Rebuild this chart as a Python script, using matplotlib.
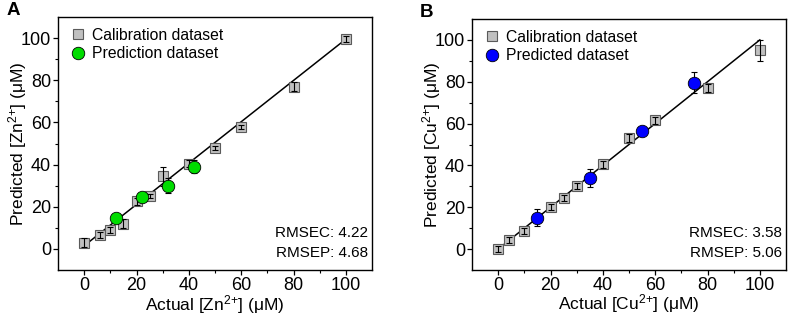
import matplotlib.pyplot as plt
import numpy as np

plt.rcParams['font.family'] = ['Liberation Sans', 'DejaVu Sans']
plt.rcParams['mathtext.fontset'] = 'custom'
plt.rcParams['mathtext.rm'] = 'Liberation Sans'

# Panel A - Zn2+
zn_cal_x = [0, 6, 10, 15, 20, 25, 30, 40, 50, 60, 80, 100]
zn_cal_y = [3, 6.5, 9, 12, 22.5, 25, 34.5, 40.5, 48, 58, 77, 99.5]
zn_cal_err = [2, 1.5, 1.5, 2, 1.5, 1, 4.5, 1.5, 1, 1, 2, 1.5]
zn_pred_x = [12, 22, 32, 42]
zn_pred_y = [14.5, 24.5, 30, 39]
zn_pred_err = [1.5, 1.5, 3.5, 3]
zn_fit = (0.98, 1.5)

# Panel B - Cu2+
cu_cal_x = [0, 4, 10, 20, 25, 30, 40, 50, 60, 80, 100]
cu_cal_y = [0, 4.5, 8.5, 20, 24.5, 30, 40.5, 53, 61.5, 77, 95]
cu_cal_err = [1.5, 1.5, 1.5, 1.5, 1.5, 1.5, 1.5, 2, 1.5, 2, 5]
cu_pred_x = [15, 35, 55, 75]
cu_pred_y = [15, 34, 56.5, 79.5]
cu_pred_err = [4, 4.5, 1, 5]
cu_fit = (1.0, 0.0)

fig = plt.figure(figsize=(7.89, 3.17), dpi=100)
ax_a = fig.add_axes([58 / 789, 47 / 317, 314 / 789, 253 / 317])
ax_b = fig.add_axes([472 / 789, 47 / 317, 314 / 789, 251 / 317])

bar_kw = dict(fmt='none', ecolor='black', elinewidth=0.8, capsize=2, capthick=0.8)


def panel(ax, cx, cy, ce, px, py, pe, fit, color, ion, pred_label, rmsec, rmsep, letter):
    xs = np.array([0, 100])
    ax.plot(xs, fit[0] * xs + fit[1], color='black', lw=1.1, zorder=2)
    # calibration: bars drawn over the squares
    ax.plot(cx, cy, 's', ms=7.5, mfc='#c0c0c0', mec='#5a5a5a', mew=0.8,
            label='Calibration dataset', zorder=3)
    ax.errorbar(cx, cy, yerr=ce, zorder=3.5, **bar_kw)
    # prediction: bars behind the circles
    ax.errorbar(px, py, yerr=pe, zorder=3.8, **bar_kw)
    ax.plot(px, py, 'o', ms=9, mfc=color, mec='black', mew=0.6,
            label=pred_label, zorder=4)
    ax.set_xlim(-10, 110)
    ax.set_ylim(-10, 110)
    ax.set_xticks([0, 20, 40, 60, 80, 100])
    ax.set_yticks([0, 20, 40, 60, 80, 100])
    ax.set_xticks(np.arange(10, 110, 20), minor=True)
    ax.set_yticks(np.arange(10, 110, 20), minor=True)
    ax.tick_params(axis='both', which='major', direction='out', length=3.5, width=0.9,
                   labelsize=13, pad=1.5)
    ax.tick_params(axis='both', which='minor', direction='out', length=2.2, width=0.8)
    for s in ax.spines.values():
        s.set_linewidth(1.0)
    sup = r'$\mathregular{^{2{+}}}$'
    ax.set_xlabel(f'Actual [{ion}{sup}] (μM)', fontsize=12.5)
    ax.set_ylabel(f'Predicted [{ion}{sup}] (μM)', fontsize=12.5, va='center')
    ax.xaxis.set_label_coords(0.5, -0.09)
    ax.yaxis.set_label_coords(-0.128, 0.5)
    ax.legend(loc='upper left', frameon=False, fontsize=11.3, handletextpad=0.35,
              borderaxespad=0.3, labelspacing=0.2, handlelength=1.1)
    ax.text(0.987, 0.146, f'RMSEC: {rmsec}', transform=ax.transAxes, ha='right', va='center', fontsize=11)
    ax.text(0.987, 0.067, f'RMSEP: {rmsep}', transform=ax.transAxes, ha='right', va='center', fontsize=11)
    ax.text(-0.165, 1.06, letter, transform=ax.transAxes, fontsize=13.5, fontweight='bold', va='top')


panel(ax_a, zn_cal_x, zn_cal_y, zn_cal_err, zn_pred_x, zn_pred_y, zn_pred_err, zn_fit,
      '#00dd00', 'Zn', 'Prediction dataset', '4.22', '4.68', 'A')
panel(ax_b, cu_cal_x, cu_cal_y, cu_cal_err, cu_pred_x, cu_pred_y, cu_pred_err, cu_fit,
      '#0000ff', 'Cu', 'Predicted dataset', '3.58', '5.06', 'B')

plt.savefig('out.png', dpi=100)
